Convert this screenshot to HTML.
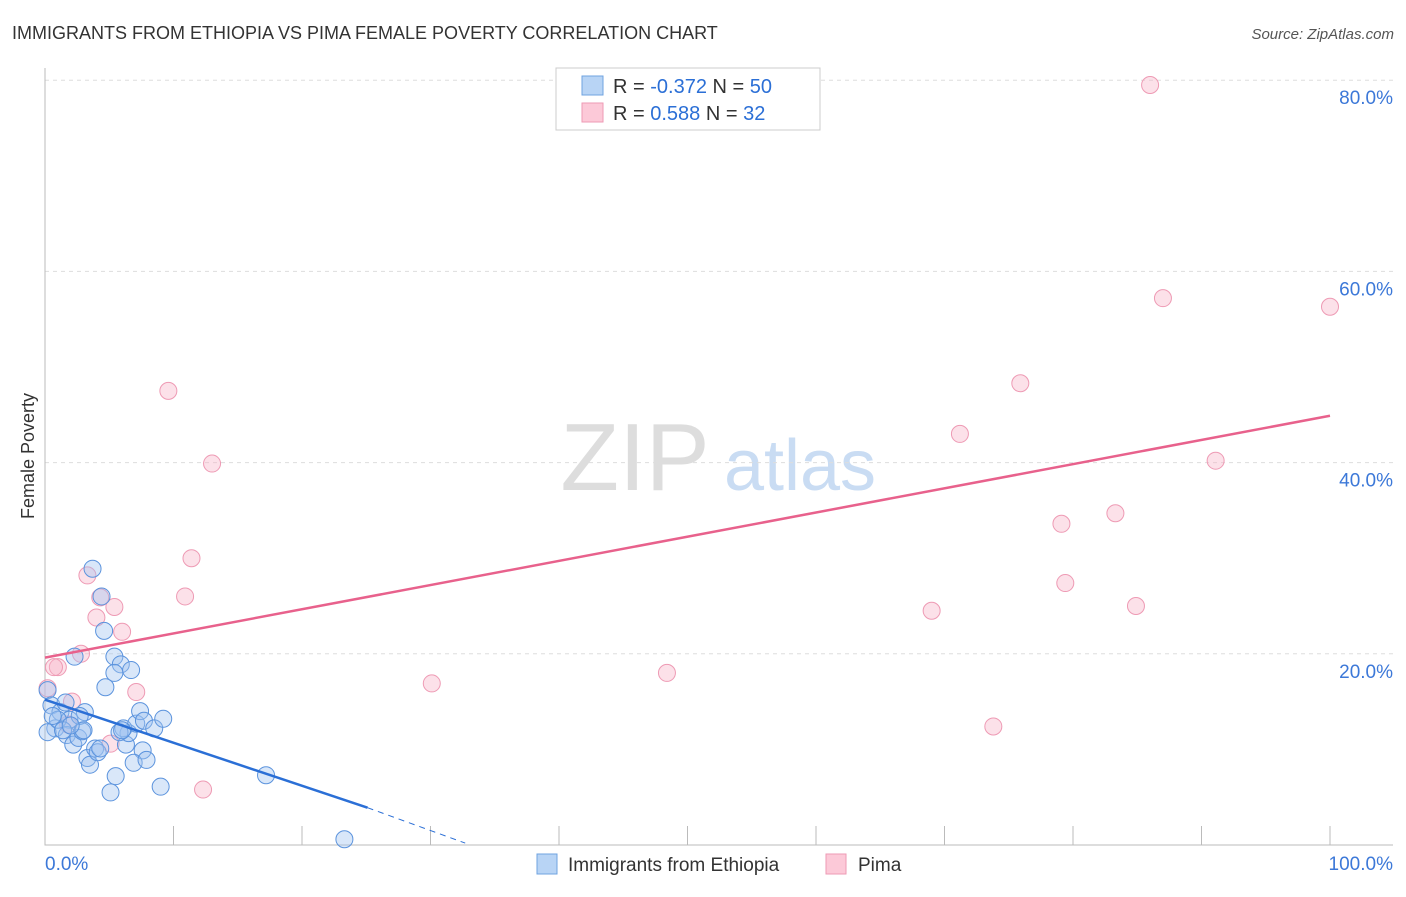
<!DOCTYPE html>
<html><head><meta charset="utf-8"><style>
body{margin:0;background:#fff;font-family:"Liberation Sans",sans-serif}
svg text{font-family:"Liberation Sans",sans-serif}
</style></head><body>
<svg width="1406" height="892" xmlns="http://www.w3.org/2000/svg">
<text x="12" y="39" font-size="18" fill="#333">IMMIGRANTS FROM ETHIOPIA VS PIMA FEMALE POVERTY CORRELATION CHART</text>
<text x="1394" y="39" font-size="15" fill="#555" font-style="italic" text-anchor="end">Source: ZipAtlas.com</text>
<text x="0" y="0" transform="translate(34,456) rotate(-90)" font-size="18" fill="#333" text-anchor="middle">Female Poverty</text>
<g><text x="635" y="490" font-size="96" fill="#ddd" font-family="Liberation Serif" text-anchor="middle">ZIP</text><text x="800" y="490" font-size="72" fill="#c9dcf3" text-anchor="middle">atlas</text></g>
<g id="grid"></g><g id="axes"></g><g id="marks"></g>
<g>
<rect x="556" y="68" width="264" height="62" fill="#fff" stroke="#ccc"/>
<rect x="582" y="76" width="21" height="19" fill="#b8d4f5" stroke="#6fa3e0"/>
<rect x="582" y="103" width="21" height="19" fill="#fcc9d8" stroke="#ee9ab4"/>
<text x="613" y="93" font-size="20" fill="#333">R = <tspan fill="#2b6fd6">-0.372</tspan>   N = <tspan fill="#2b6fd6">50</tspan></text>
<text x="613" y="120" font-size="20" fill="#333">R =  <tspan fill="#2b6fd6"> 0.588</tspan>   N =  <tspan fill="#2b6fd6">32</tspan></text>
</g>
<g>
<rect x="537" y="854" width="20" height="20" fill="#b8d4f5" stroke="#6fa3e0"/>
<text x="568" y="871" font-size="19" fill="#333">Immigrants from Ethiopia</text>
<rect x="826" y="854" width="20" height="20" fill="#fcc9d8" stroke="#ee9ab4"/>
<text x="858" y="871" font-size="19" fill="#333">Pima</text>
</g>
</svg>
<script>
const blueX=[3.7,4.4,4.6,5.4,5.9,6.7,4.7,5.4,2.3,0.2,0.5,1.2,1.6,1.9,0.8,1.7,2.2,2.6,2.9,3.1,2.7,3.3,3.5,3.9,4.1,4.3,5.5,5.1,6.3,6.5,6.1,7.1,7.4,7.7,8.5,9.2,7.6,6.9,7.9,9.0,17.2,23.3,0.2,1.0,1.4,5.8,3.0,0.6,2.0,6.0];
const blueY=[28.9,26.0,22.4,19.7,18.9,18.3,16.5,18.0,19.7,16.2,14.6,13.9,14.9,13.1,12.2,11.5,10.5,11.2,11.9,13.9,13.5,9.1,8.4,10.1,9.7,10.1,7.2,5.5,10.5,11.7,12.2,12.7,14.0,13.0,12.2,13.2,9.9,8.6,8.9,6.1,7.3,0.6,11.8,13.1,12.0,11.8,12.0,13.5,12.5,12.0];
const pinkX=[86.0,87.0,100,75.9,71.2,91.1,79.1,83.3,79.4,84.9,69.0,73.8,48.4,30.1,9.6,13.0,11.4,10.9,6.0,5.4,4.0,4.3,3.3,2.8,1.0,0.7,7.1,2.1,5.1,12.3,0.2,1.8];
const pinkY=[79.5,57.2,56.3,48.3,43.0,40.2,33.6,34.7,27.4,25.0,24.5,12.4,18.0,16.9,47.5,39.9,30.0,26.0,22.3,24.9,23.8,25.9,28.2,20.0,18.6,18.6,16.0,15.0,10.6,5.8,16.4,12.6];
const yTicks=[20,40,60,80];
const yTickLabels=["20.0%","40.0%","60.0%","80.0%"];
const xTicks=[0,10,20,30,40,50,60,70,80,90,100];
const blueTrend=[15.2,3.9,0.2]; const blueTrendX=[0,25.1,32.7];
const pinkTrend=[19.6,44.9]; const pinkTrendX=[0,100];
const sx=v=>45+v*12.85, sy=v=>845-v*9.56;
const NS="http://www.w3.org/2000/svg";
function mk(tag,attrs,parent){const e=document.createElementNS(NS,tag);for(const k in attrs)e.setAttribute(k,attrs[k]);parent.appendChild(e);return e;}
const grid=document.getElementById('grid'),axes=document.getElementById('axes'),marks=document.getElementById('marks');
yTicks.forEach((t,i)=>{
 const l=mk('line',{x1:45,x2:1393,y1:sy(t),y2:sy(t),stroke:'#ddd','stroke-dasharray':'4,4'},grid);
 
 
 const tx=mk('text',{x:1393,y:sy(t)+24,'font-size':19,fill:'#3c78d8','text-anchor':'end'},axes);
 tx.textContent=yTickLabels[i];
 
 
});
const ax=mk('path',{d:'M45 68 V845 H1393',fill:'none',stroke:'#bbb'},axes);


xTicks.slice(1).forEach(t=>{
 const l=mk('line',{x1:sx(t),x2:sx(t),y1:826,y2:845,stroke:'#bbb'},axes);
 
 
});
const x0=mk('text',{x:45,y:870,'font-size':19,fill:'#3c78d8'},axes);x0.textContent='0.0%';


const x1=mk('text',{x:1393,y:870,'font-size':19,fill:'#3c78d8','text-anchor':'end'},axes);x1.textContent='100.0%';


pinkX.forEach((x,i)=>{
 const c=mk('circle',{cx:sx(x),cy:sy(pinkY[i]),r:8.5,fill:'rgba(248,180,200,0.4)',stroke:'#ee9ab4','stroke-width':1},marks);
 
 
});
blueX.forEach((x,i)=>{
 const c=mk('circle',{cx:sx(x),cy:sy(blueY[i]),r:8.5,fill:'rgba(160,195,240,0.4)',stroke:'#5b93dd','stroke-width':1},marks);
 
 
});
const pl=mk('line',{x1:sx(pinkTrendX[0]),y1:sy(pinkTrend[0]),x2:sx(pinkTrendX[1]),y2:sy(pinkTrend[1]),stroke:'#e8618c','stroke-width':2.5},marks);


const bl=mk('line',{x1:sx(blueTrendX[0]),y1:sy(blueTrend[0]),x2:sx(blueTrendX[1]),y2:sy(blueTrend[1]),stroke:'#2b6fd6','stroke-width':2.5},marks);


const bd=mk('line',{x1:sx(blueTrendX[1]),y1:sy(blueTrend[1]),x2:sx(blueTrendX[2]),y2:sy(blueTrend[2]),stroke:'#2b6fd6','stroke-width':1,'stroke-dasharray':'6,5'},marks);


</script>
</body></html>
